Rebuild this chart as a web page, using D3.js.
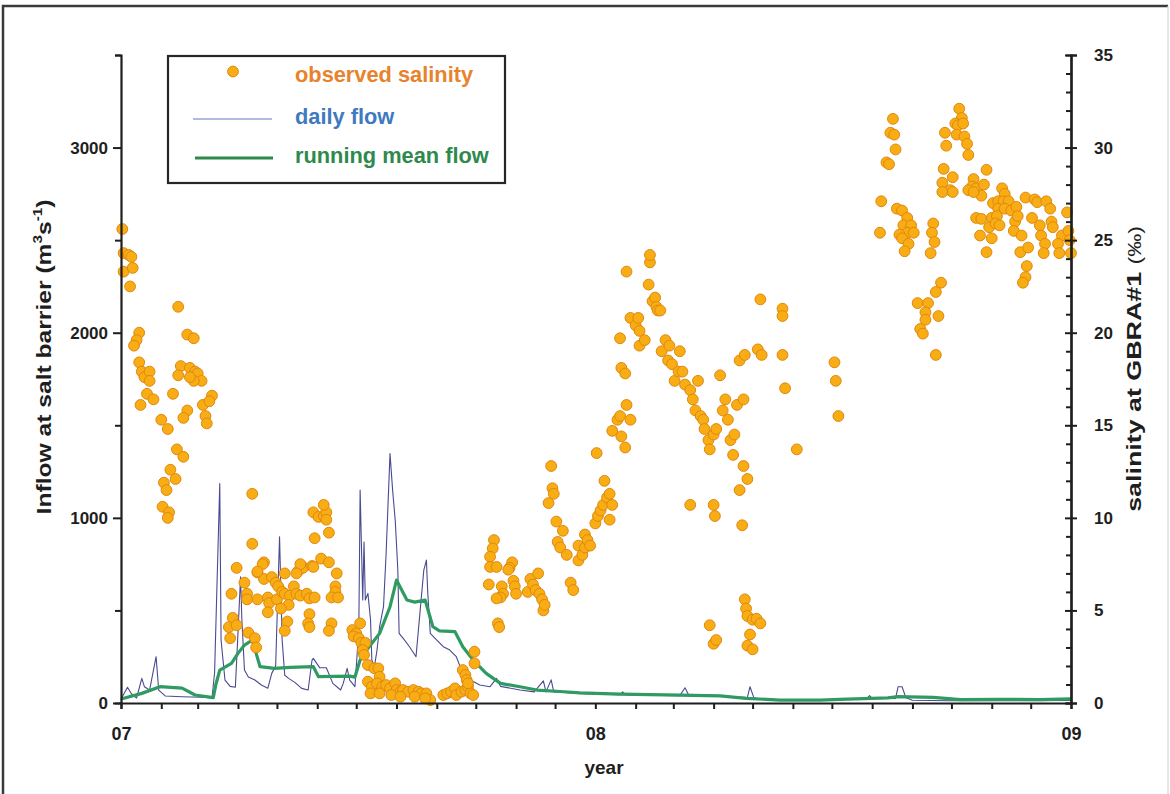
<!DOCTYPE html>
<html>
<head>
<meta charset="utf-8">
<script src="https://cdn.jsdelivr.net/npm/d3@7"></script>
<style>
  html, body { margin: 0; padding: 0; background: #fff; }
  svg { display: block; font-family: "Liberation Sans", Arial, sans-serif; }
</style>
</head>
<body>
<svg id="chart" width="1170" height="794"></svg>
<script>
// ---- data (day offsets from 1 Jan 2007) ----
const yearTicks = ["2007-01-01", "2008-01-01", "2009-01-01"];
const flowTicks = [0, 1000, 2000, 3000];
const salTicks = [0, 5, 10, 15, 20, 25, 30, 35];

// daily inflow at salt barrier (m3/s)
const flowDay = [0,1,5,8,12,16,18,22,27,29,34,47,62,70,72,76,77,80,84,88,90,92,93,95,98,103,108,113,116,119,122,124,126,129,134,139,144,147,148,151,153,158,163,169,171,174,176,180,183,184,186,187,188,190,192,193,195,197,199,202,204,207,209,211,213,214,217,222,227,230,233,235,236,238,243,248,253,258,263,269,276,284,289,292,307,318,325,327,331,333,338,353,369,384,386,388,407,430,434,437,446,469,482,484,487,492,507,538,553,574,576,578,596,598,601,604,609,638,676,731];
const flowDaily = [16,34,85,50,27,133,88,70,250,70,38,34,31,27,162,1185,340,124,90,85,376,682,450,178,140,124,97,80,160,200,898,340,150,133,110,79,70,232,241,210,190,190,106,70,106,187,124,88,400,1150,556,870,556,592,450,232,196,286,412,520,808,1347,1150,988,720,376,350,304,250,484,718,772,600,376,340,304,286,250,160,124,97,88,133,90,70,60,120,60,125,60,58,52,48,45,60,45,42,40,82,40,38,35,30,88,28,22,14,14,22,25,40,25,25,88,88,28,15,12,12,14];

// running mean inflow (m3/s)
const meanDay = [0,16,30,47,57,71,73,76,85,90,95,101,104,107,118,130,148,152,176,180,184,189,199,207,212,220,226,234,240,245,257,263,271,281,292,307,320,338,353,384,430,461,481,507,538,553,590,598,625,646,676,707,731];
const meanFlow = [22,52,88,80,43,29,100,178,214,268,313,340,268,196,187,192,196,142,145,140,232,286,376,520,664,556,545,556,412,390,385,304,232,160,106,88,70,62,55,48,43,38,25,16,16,20,28,34,30,18,20,18,22];

// observed salinity at GBRA#1 (ppt)
const salDay = [
  1,2,6,8,2,9,7,14,12,10,14,16,18,22,22,20,15,25,31,36,43,48,38,42,33,35,32,37,36,44,51,56,46,44,53,57,59,62,56,53,40,70,63,68,51,48,65,66,
  101,101,89,110,105,95,110,116,119,121,126,136,139,140,147,85,97,97,105,113,114,120,124,126,130,129,123,133,135,138,143,145,149,113,145,144,128,126,86,83,84,89,98,103,104,148,152,156,158,156,158,160,149,154,160,148,166,165,165,162,167,145,162,160,138,135,109,105,
  178,184,181,179,183,185,188,186,187,190,195,198,199,190,193,192,197,201,204,207,211,212,215,217,221,225,229,231,235,238,199,208,215,226,234,248,251,254,257,258,262,265,267,269,271,263,265,266,267,272,272,
  287,286,284,284,289,283,293,294,292,289,301,299,298,302,303,304,290,291,
  313,315,317,319,321,322,324,325,326,331,332,333,329,335,336,338,340,343,346,348,352,352,355,357,357,359,361,365,366,367,369,371,372,374,376,376,378,
  378,382,384,385,388,389,392,384,385,388,389,392,396,398,399,399,403,406,407,407,409,411,412,413,415,416,419,421,422,424,426,429,430,432,434,
  438,440,442,444,446,448,449,452,453,456,458,461,463,465,467,469,471,472,474,476,480,479,482,438,456,457,453,456,458,480,481,482,486,489,492,484,482,486,478,476,479,
  492,509,509,490,493,509,511,520,549,550,552,
  594,592,595,596,589,591,585,584,597,601,605,602,608,605,610,599,601,606,603,625,624,626,623,
  645,647,642,644,648,634,643,649,651,635,652,633,640,632,638,632,640,
  613,621,619,619,615,617,627,631,629,627,
  666,656,655,658,664,662,652,656,678,680,671,675,679,683,675,680,685,689,
  658,662,670,674,668,673,676,661,670,666,688,690,687,693,692,698,697,696,694,
  696,703,705,712,701,707,715,716,717,708,711,710,724,721,722,728,729,730,731
];
const salValue = [
  25.6,24.3,24.2,24.1,23.3,23.5,22.5,20.0,19.6,19.3,18.4,17.9,17.6,17.9,17.4,16.7,16.1,16.4,15.3,14.8,13.7,13.3,12.6,12.1,11.9,11.5,10.6,10.3,10.0,21.4,19.9,19.7,18.2,17.7,18.1,17.9,17.8,17.4,17.4,17.6,16.7,16.6,16.1,16.3,15.8,15.4,15.5,15.1,
  11.3,8.6,7.3,7.6,7.05,6.5,6.7,6.8,6.5,6.3,7.0,7.1,7.4,7.3,7.4,5.9,5.9,5.6,5.6,5.7,5.4,5.6,6.0,5.9,5.8,5.3,5.1,6.3,5.9,5.8,5.9,5.65,5.7,4.9,4.8,4.3,4.4,3.9,4.6,4.1,3.5,4.2,3.8,3.5,3.0,10.3,10.05,10.1,10.3,10.7,9.9,9.2,8.9,7.8,7.6,7.35,7.0,6.3,6.0,5.7,5.7,4.1,4.3,3.9,7.5,7.0,7.5,7.1,
  3.94,4.3,3.76,3.6,3.5,3.25,3.25,2.86,2.6,2.05,1.87,1.87,1.42,1.15,0.88,0.52,1.06,0.88,0.97,0.79,1.06,0.7,0.61,0.7,0.61,0.7,0.61,0.52,0.52,0.16,0.52,0.43,0.34,0.34,0.25,0.43,0.52,0.61,0.79,0.43,0.61,0.7,0.88,0.52,0.43,1.78,1.51,1.24,1.06,2.77,2.14,
  8.8,8.35,7.9,7.35,7.35,6.4,6.3,5.9,5.7,5.65,7.6,7.3,7.2,6.6,6.3,5.9,4.3,4.1,
  6.0,6.7,6.4,6.1,7.0,5.9,5.6,5.0,5.3,12.8,11.6,11.3,10.8,9.8,8.7,8.4,9.3,8.0,6.5,6.1,8.5,7.7,8.0,8.4,9.1,8.8,8.5,9.7,13.5,10.1,10.4,10.7,12.0,11.1,9.9,11.3,10.7,
  14.7,15.3,15.5,14.4,13.8,16.1,15.3,19.7,18.1,17.8,23.3,20.8,20.4,20.8,20.1,19.3,19.6,22.6,23.8,24.2,21.7,21.9,21.4,21.2,21.2,19.0,19.6,18.5,19.3,18.3,17.4,17.9,19.0,17.9,17.2,
  16.9,16.4,15.8,17.4,15.5,15.3,14.8,14.2,13.7,14.5,14.8,17.7,15.8,16.4,15.3,14.2,13.4,14.5,16.1,18.5,18.8,16.4,12.1,10.7,10.7,10.1,4.2,3.2,3.4,5.6,5.1,4.7,4.5,4.55,4.3,3.7,3.1,2.9,9.6,11.5,12.8,
  21.8,21.3,20.9,19.1,18.8,18.8,17.0,13.7,18.4,17.4,15.5,
  31.55,30.8,30.7,29.9,29.2,29.1,27.1,25.4,26.7,26.6,26.2,25.8,25.8,25.4,25.4,25.3,25.1,24.8,24.4,25.9,25.4,24.9,24.3,
  32.1,31.6,31.3,31.2,31.3,30.8,30.7,30.6,30.2,30.1,29.6,28.85,28.4,28.1,27.7,27.6,27.6,
  21.6,21.6,21.1,20.7,20.2,19.95,22.2,22.7,20.9,18.8,
  28.8,28.3,27.9,27.8,28.0,27.4,27.7,27.6,27.8,27.5,27.0,27.1,27.1,27.1,26.7,26.7,26.6,26.8,
  26.2,26.15,26.2,26.3,25.7,25.9,25.8,25.25,25.1,24.35,26.0,26.3,25.5,25.25,24.35,24.6,23.6,23.0,22.7,
  27.3,27.2,27.05,27.1,26.2,25.8,26.7,26.0,25.7,25.25,24.8,24.3,25.25,24.8,24.3,26.5,25.5,25.0,24.3
];

// ---- layout ----
const W = 1170, H = 794;
const plot = { left: 121, right: 1071, top: 55, bottom: 703 };
const start = new Date(2007, 0, 1);
const dayToDate = d => d3.timeDay.offset(start, d);

const x = d3.scaleTime()
  .domain([new Date(2007, 0, 1), new Date(2009, 0, 1)])
  .range([plot.left, plot.right]);
const yFlow = d3.scaleLinear().domain([0, 3500]).range([plot.bottom, plot.top]);
const ySal = d3.scaleLinear().domain([0, 35]).range([plot.bottom, plot.top]);

const svg = d3.select("#chart");
svg.append("rect").attr("width", W).attr("height", H).attr("fill", "#fff");

// outer frame
svg.append("path")
  .attr("d", "M3,800 V6 H1168")
  .attr("fill", "none").attr("stroke", "#3a3a3a").attr("stroke-width", 2.5);
svg.append("path")
  .attr("d", "M1168,6 V800")
  .attr("fill", "none").attr("stroke", "#d6d6d6").attr("stroke-width", 1.2);

// ---- series ----
const dailyLine = d3.line()
  .x(i => x(dayToDate(flowDay[i])))
  .y(i => yFlow(flowDaily[i]));
svg.append("path")
  .attr("d", dailyLine(d3.range(flowDay.length)))
  .attr("fill", "none").attr("stroke", "#4a4a92").attr("stroke-width", 1.1)
  .attr("stroke-linejoin", "round");

const meanLine = d3.line()
  .x(i => x(dayToDate(meanDay[i])))
  .y(i => yFlow(meanFlow[i]));
svg.append("path")
  .attr("d", meanLine(d3.range(meanDay.length)))
  .attr("fill", "none").attr("stroke", "#2f9a62").attr("stroke-width", 3.2)
  .attr("stroke-linejoin", "round");

svg.append("g").selectAll("circle")
  .data(d3.range(salDay.length))
  .join("circle")
  .attr("cx", i => x(dayToDate(salDay[i])))
  .attr("cy", i => ySal(salValue[i]))
  .attr("r", 5.4)
  .attr("fill", "#f9ad14")
  .attr("stroke", "#e0870e")
  .attr("stroke-width", 1);

// ---- axes ----
const axisColor = "#1e1e1e";
function styleAxis(g, size) {
  g.selectAll("path.domain").attr("stroke", axisColor).attr("stroke-width", 2.2);
  g.selectAll(".tick line").attr("stroke", axisColor).attr("stroke-width", 2);
  g.selectAll(".tick text")
    .attr("fill", "#1e1e1e")
    .attr("font-family", "'Liberation Sans', Arial, sans-serif")
    .attr("font-weight", "bold")
    .attr("font-size", size || 17);
}

// x axis: monthly minor ticks + year labels
svg.append("g")
  .attr("transform", `translate(0,${plot.bottom})`)
  .call(d3.axisBottom(x).tickValues(d3.timeMonth.range(new Date(2007, 0, 1), new Date(2009, 0, 2)))
    .tickSize(6).tickFormat(""))
  .call(styleAxis);
svg.append("g")
  .attr("transform", `translate(0,${plot.bottom})`)
  .call(d3.axisBottom(x).tickValues(yearTicks.map(s => new Date(s + "T00:00:00")))
    .tickSize(0).tickPadding(24).tickFormat(d3.timeFormat("%y")))
  .call(g => styleAxis(g, 18))
  .call(g => g.select("path.domain").remove());

// left axis: flow
svg.append("g")
  .attr("transform", `translate(${plot.left},0)`)
  .call(d3.axisLeft(yFlow).tickValues([500, 1500, 2500, 3500]).tickSize(6).tickFormat(""))
  .call(styleAxis);
svg.append("g")
  .attr("transform", `translate(${plot.left},0)`)
  .call(d3.axisLeft(yFlow).tickValues(flowTicks).tickSize(8).tickPadding(5).tickFormat(d3.format("d")))
  .call(styleAxis)
  .call(g => g.select("path.domain").remove());

// right axis: salinity
svg.append("g")
  .attr("transform", `translate(${plot.right},0)`)
  .call(d3.axisLeft(ySal).tickValues(d3.range(0, 36).filter(v => v % 5 !== 0)).tickSize(5).tickFormat(""))
  .call(styleAxis);
svg.append("g")
  .attr("transform", `translate(${plot.right},0)`)
  .call(d3.axisRight(ySal).tickValues(salTicks).tickSize(6).tickPadding(17).tickFormat(d3.format("d")))
  .call(styleAxis)
  .call(g => g.selectAll(".tick line").attr("x1", -6).attr("x2", 6));

// ---- axis titles ----
svg.append("text")
  .attr("x", 604).attr("y", 774)
  .attr("text-anchor", "middle")
  .attr("font-size", 19).attr("font-weight", "bold").attr("fill", "#1e1e1e")
  .text("year");

// vertical titles are stretched along their reading direction to a fixed length
function placeVertical(textSel, cx, cy, length) {
  const w = textSel.node().getBBox().width;
  textSel.attr("transform", `translate(${cx},${cy}) rotate(-90) scale(${length / w},1)`);
}

const leftTitle = svg.append("text")
  .attr("text-anchor", "middle")
  .attr("font-size", 21).attr("font-weight", "bold").attr("fill", "#1e1e1e");
leftTitle.append("tspan").text("Inflow at salt barrier  (m");
leftTitle.append("tspan").attr("dy", -9).attr("font-size", 13).text("3");
leftTitle.append("tspan").attr("dy", 9).text("s");
leftTitle.append("tspan").attr("dy", -9).attr("font-size", 13).text("-1");
leftTitle.append("tspan").attr("dy", 9).text(")");
placeVertical(leftTitle, 51, 357, 315);

const rightTitle = svg.append("text")
  .attr("text-anchor", "middle")
  .attr("font-size", 21).attr("font-weight", "bold").attr("fill", "#1e1e1e");
rightTitle.append("tspan").text("salinity at GBRA#1 ");
rightTitle.append("tspan").attr("font-weight", "normal").attr("font-size", 18).text("(‰)");
placeVertical(rightTitle, 1141, 369, 286);

// ---- legend ----
const legend = svg.append("g");
legend.append("rect")
  .attr("x", 168).attr("y", 56).attr("width", 337).attr("height", 127)
  .attr("fill", "#fff").attr("stroke", "#262626").attr("stroke-width", 2.2);
legend.append("circle")
  .attr("cx", 233).attr("cy", 71.5).attr("r", 5.4)
  .attr("fill", "#f9ad14").attr("stroke", "#e0870e");
legend.append("line")
  .attr("x1", 193).attr("x2", 272).attr("y1", 119).attr("y2", 119)
  .attr("stroke", "#93a6d2").attr("stroke-width", 1.6);
legend.append("line")
  .attr("x1", 195).attr("x2", 273).attr("y1", 158).attr("y2", 158)
  .attr("stroke", "#2e8a4c").attr("stroke-width", 3.2);
const legendItems = [
  { text: "observed salinity", y: 82, color: "#e8822c" },
  { text: "daily flow", y: 124, color: "#4079c0" },
  { text: "running mean flow", y: 163, color: "#2e8a4c" }
];
legend.selectAll("text.item")
  .data(legendItems)
  .join("text")
  .attr("class", "item")
  .attr("x", 295).attr("y", d => d.y)
  .attr("font-size", 21.8).attr("font-weight", "bold")
  .attr("fill", d => d.color)
  .text(d => d.text);
</script>
</body>
</html>
